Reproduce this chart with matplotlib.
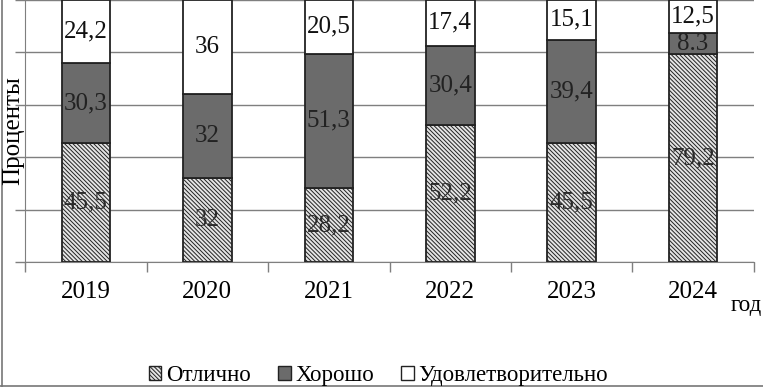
import numpy as np
import matplotlib.pyplot as plt
from matplotlib.patches import Patch
from matplotlib.lines import Line2D

# data
years = ["2019", "2020", "2021", "2022", "2023", "2024"]
excellent = [45.5, 32, 28.2, 52.2, 45.5, 79.2]
good = [30.3, 32, 51.3, 30.4, 39.4, 8.3]
satisfactory = [24.2, 36, 20.5, 17.4, 15.1, 12.5]
excellent_labels = ["45,5", "32", "28,2", "52,2", "45,5", "79,2"]
good_labels = ["30,3", "32", "51,3", "30,4", "39,4", "8.3"]
satisfactory_labels = ["24,2", "36", "20,5", "17,4", "15,1", "12,5"]
series_names = ["Отлично", "Хорошо", "Удовлетворительно"]

plt.rcParams["font.family"] = ["Liberation Serif", "DejaVu Serif"]
plt.rcParams["hatch.color"] = "#333333"
plt.rcParams["hatch.linewidth"] = 0.7

fig = plt.figure(figsize=(7.63, 3.87), dpi=100)
ax = fig.add_axes([0.033, 0.323, 0.955, 0.677])

x = np.arange(len(years))
w = 0.4
fs = 18
hatch = "\\\\\\\\\\\\\\\\"

b1 = ax.bar(x, excellent, w, color="#e4e4e4", edgecolor="#222222", hatch=hatch,
            linewidth=1.3, zorder=3)
b2 = ax.bar(x, good, w, bottom=excellent, color="#6b6b6b", edgecolor="#222222",
            linewidth=1.3, zorder=3)
bottom3 = np.array(excellent) + np.array(good)
b3 = ax.bar(x, satisfactory, w, bottom=bottom3, color="white", edgecolor="#222222",
            linewidth=1.3, zorder=3)

for bars, labels, col in [(b1, excellent_labels, "#2a2a2a"),
                          (b2, good_labels, "#222222"),
                          (b3, satisfactory_labels, "#111111")]:
    ax.bar_label(bars, labels=labels, label_type="center", fontsize=fs, color=col, zorder=4)

ax.set_xlim(-0.5, len(years) - 0.5)
ax.set_ylim(0, 100)
ax.set_yticks([0, 20, 40, 60, 80, 100])
ax.set_yticklabels([])
ax.yaxis.grid(True, color="#7f7f7f", linewidth=1.0, zorder=0)
ax.tick_params(axis="y", length=7, color="#7f7f7f", width=1.0)

ax.set_xticks(x)
ax.set_xticklabels(years, fontsize=fs)
ax.set_xticks(np.arange(-0.5, len(years)), minor=True)
ax.tick_params(axis="x", which="major", length=0, pad=14)
ax.tick_params(axis="x", which="minor", length=7, color="#7f7f7f", width=1.0)

for side in ["top", "right"]:
    ax.spines[side].set_visible(False)
ax.spines["left"].set_color("#7f7f7f")
ax.spines["bottom"].set_color("#7f7f7f")

fig.text(13 / 763, 1 - 131 / 387, "Проценты", fontsize=fs, rotation=90,
         ha="center", va="center")
fig.text(0.998, 0.21, "год", fontsize=16.5, ha="right", va="center")

handles = [Patch(facecolor="#e4e4e4", edgecolor="#222222", hatch=hatch),
           Patch(facecolor="#6b6b6b", edgecolor="#222222"),
           Patch(facecolor="white", edgecolor="#222222")]
fig.legend(handles, series_names, loc="center", bbox_to_anchor=(0.496, 0.03), ncol=3,
           frameon=False, fontsize=16.5, handlelength=0.55, handleheight=0.55,
           handletextpad=0.2, columnspacing=1.2, borderpad=0.2)

# outer frame (left and bottom edges visible in the reference)
fig.lines.append(Line2D([0.003, 0.003], [0.0, 1.0], transform=fig.transFigure,
                        color="#777777", linewidth=1.2))
fig.lines.append(Line2D([0.0, 1.0], [0.003, 0.003], transform=fig.transFigure,
                        color="#777777", linewidth=1.2))

fig.savefig("out.png", dpi=100)
